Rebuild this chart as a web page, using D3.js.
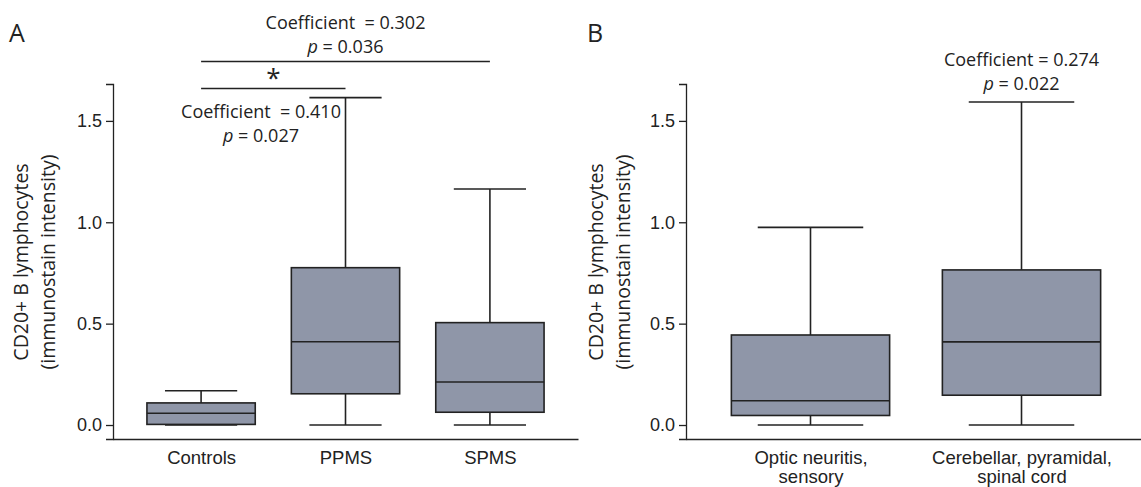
<!DOCTYPE html>
<html>
<head>
<meta charset="utf-8">
<script src="https://cdn.jsdelivr.net/npm/d3@7"></script>
<style>
  body { margin: 0; background: #fff; }
  svg { font-family: "Open Sans", "Noto Sans", sans-serif; }
  .axis path, .axis line { stroke: #222; stroke-width: 1.3; }
  .axis text { font-size: 18px; fill: #222; }
</style>
</head>
<body>
<svg id="chart" width="1141" height="487"></svg>
<script>
// panel A: disease course
var groupsA = ["Controls", "PPMS", "SPMS"];
var minA = [0.0, 0.0, 0.0];
var q1A = [0.003, 0.154, 0.063];
var medA = [0.058, 0.411, 0.212];
var q3A = [0.109, 0.776, 0.505];
var maxA = [0.169, 1.615, 1.164];

// panel B: onset symptoms
var groupsB = ["Optic neuritis,\nsensory", "Cerebellar, pyramidal,\nspinal cord"];
var minB = [0.0, 0.0];
var q1B = [0.047, 0.147];
var medB = [0.12, 0.41];
var q3B = [0.444, 0.765];
var maxB = [0.975, 1.593];

var yTicks = [0.0, 0.5, 1.0, 1.5];

var svg = d3.select("#chart");
var fill = "#8f96a8", ink = "#222";

function panel(opts) {
  var g = svg.append("g");
  var x = d3.scalePoint().domain(opts.groups).range(opts.xr).padding(opts.pad);
  var y = d3.scaleLinear().domain([-0.069, 1.682]).range([439, 84]);
  var step = x.step();

  g.append("g").attr("class", "axis")
    .attr("transform", "translate(" + opts.xr[0] + ",0)")
    .call(d3.axisLeft(y).tickValues(yTicks).tickFormat(d3.format(".1f")).tickSizeOuter(0).tickSize(7).tickPadding(4));

  var xa = g.append("g").attr("class", "axis")
    .attr("transform", "translate(0,439)")
    .call(d3.axisBottom(x).tickSize(0).tickSizeOuter(0));
  xa.selectAll(".tick text").each(function(d) {
    var t = d3.select(this), lines = d.split("\n");
    t.text(null).attr("dy", null).attr("y", 25).style("font-size", "18.5px");
    lines.forEach(function(l, i) {
      t.append("tspan").attr("x", 0).attr("y", 25 + i * 19).text(l);
    });
  });

  // y label
  var lab = g.append("text")
    .attr("transform", "translate(" + opts.labX + ",262) rotate(-90)")
    .attr("text-anchor", "middle").attr("font-size", 19.5).attr("fill", ink);
  lab.append("tspan").attr("x", 0).attr("dy", 0).text("CD20+ B lymphocytes");
  lab.append("tspan").attr("x", 0).attr("dy", 27).text("(immunostain intensity)");

  // panel letter
  g.append("text").attr("x", opts.letterX).attr("y", 42).attr("font-size", 25)
    .attr("fill", ink).text(opts.letter);

  var bw = step * 0.75, cw = step * 0.5;
  opts.groups.forEach(function(k, i) {
    var cx = x(k);
    var b = g.append("g").attr("stroke", ink).attr("stroke-width", 1.6);
    b.append("line").attr("x1", cx).attr("x2", cx).attr("y1", y(opts.max[i])).attr("y2", y(opts.q3[i]));
    b.append("line").attr("x1", cx).attr("x2", cx).attr("y1", y(opts.q1[i])).attr("y2", y(opts.min[i]));
    b.append("line").attr("x1", cx - cw / 2).attr("x2", cx + cw / 2).attr("y1", y(opts.max[i])).attr("y2", y(opts.max[i]));
    b.append("line").attr("x1", cx - cw / 2).attr("x2", cx + cw / 2).attr("y1", y(opts.min[i])).attr("y2", y(opts.min[i]));
    b.append("rect").attr("x", cx - bw / 2).attr("width", bw)
      .attr("y", y(opts.q3[i])).attr("height", y(opts.q1[i]) - y(opts.q3[i]))
      .attr("fill", fill);
    b.append("line").attr("x1", cx - bw / 2).attr("x2", cx + bw / 2).attr("y1", y(opts.med[i])).attr("y2", y(opts.med[i]));
  });
  return { g: g, x: x, y: y };
}

var A = panel({ groups: groupsA, min: minA, q1: q1A, med: medA, q3: q3A, max: maxA,
  xr: [113, 578], pad: 0.61, labX: 28, letter: "A", letterX: 9 });
var B = panel({ groups: groupsB, min: minB, q1: q1B, med: medB, q3: q3B, max: maxB,
  xr: [686, 1146], pad: 0.59, labX: 603, letter: "B", letterX: 587 });

function note(g, cx, yb, coef, p) {
  g.append("text").attr("text-anchor", "middle").attr("font-size", 18).attr("fill", ink)
    .attr("x", cx).attr("y", yb).attr("xml:space", "preserve").text(coef);
  var t2 = g.append("text").attr("text-anchor", "middle").attr("font-size", 18).attr("fill", ink)
    .attr("x", cx).attr("y", yb + 24);
  t2.append("tspan").attr("font-style", "italic").text("p");
  t2.append("tspan").text(" = " + p);
}

// panel A brackets
var ga = A.g;
ga.append("line").attr("x1", A.x("Controls")).attr("x2", A.x("SPMS")).attr("y1", 61.5).attr("y2", 61.5)
  .attr("stroke", ink).attr("stroke-width", 1.6);
ga.append("line").attr("x1", A.x("Controls")).attr("x2", A.x("PPMS")).attr("y1", 88.5).attr("y2", 88.5)
  .attr("stroke", ink).attr("stroke-width", 1.6);
ga.append("text").attr("x", (A.x("Controls") + A.x("PPMS")) / 2).attr("y", 87).attr("text-anchor", "middle")
  .attr("font-size", 26).attr("fill", ink).text("*");
note(ga, (A.x("Controls") + A.x("SPMS")) / 2, 29, "Coefficient  = 0.302", "0.036");
note(ga, 261, 118, "Coefficient  = 0.410", "0.027");

note(B.g, B.x(groupsB[1]), 66, "Coefficient = 0.274", "0.022");
</script>
</body>
</html>
